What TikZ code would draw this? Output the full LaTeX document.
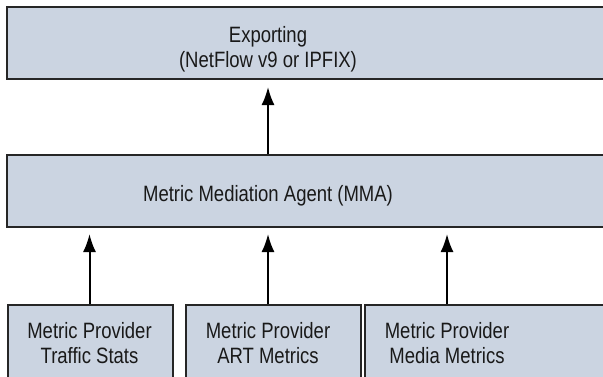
\documentclass[tikz,border=0pt]{standalone}
\usepackage{fontspec}
\setmainfont{Liberation Sans}
\usetikzlibrary{arrows.meta, positioning}
\definecolor{panelblue}{HTML}{CBD4E1}

\begin{document}
\begin{tikzpicture}[x=0.5pt, y=0.5pt,
  panel/.style={draw=black!85, line width=0.8pt, fill=panelblue, inner sep=0pt, anchor=south west},
  caption/.style={align=center, font=\fontsize{9.25}{10.4}\selectfont, text=black!90, yscale=1.2, transform shape},
  flow/.style={-{Latex[length=9pt,width=6.5pt]}, line width=1pt}]
\useasboundingbox (0,0) rectangle (603,376);
\clip (0,0) rectangle (603,376);

% boxes (sizes in pt, 1px = 0.5pt)
\node[panel, minimum width=307pt, minimum height=36.25pt] (export) at (6,296) {};
\node[panel, minimum width=307pt, minimum height=36pt] (mma) at (6,148) {};
\node[panel, minimum width=82.5pt, minimum height=42pt] (traffic) at (7,-14) {};
\node[panel, minimum width=87.5pt, minimum height=42pt] (art) at (185,-14) {};
\node[panel, minimum width=128pt, minimum height=42pt] (media) at (364,-14) {};

% texts
\node[caption] (exportText) at (268,327) {Exporting\\(NetFlow v9 or IPFIX)};
\node[caption] (mmaText) at (268,180) {Metric Mediation Agent (MMA)};
\node[caption] (trafficText) at (89.5,33) {Metric Provider\\Traffic Stats};
\node[caption] (artText) at (268,33) {Metric Provider\\ART Metrics};
\node[caption] (mediaText) at (447,33) {Metric Provider\\Media Metrics};

% arrows
\draw[flow, shorten >=3pt] (trafficText |- traffic.north) -- (trafficText |- mma.south);
\draw[flow, shorten >=3pt] (artText |- art.north) -- (artText |- mma.south);
\draw[flow, shorten >=3pt] (mediaText |- media.north) -- (mediaText |- mma.south);
\draw[flow, shorten >=3.5pt] (exportText |- mma.north) -- (exportText |- export.south);
\end{tikzpicture}
\end{document}
